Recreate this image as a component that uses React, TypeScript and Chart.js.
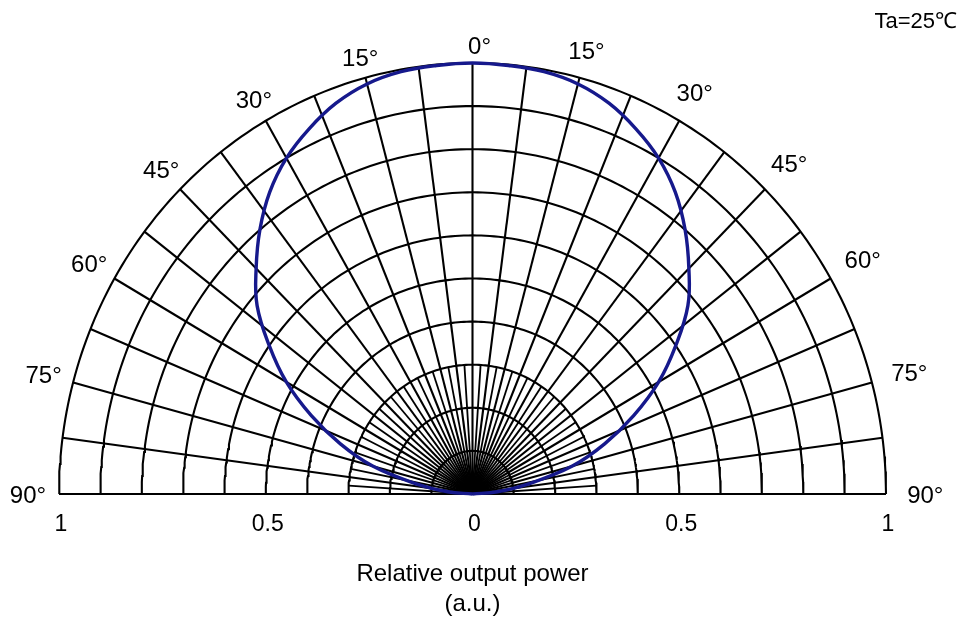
import { useEffect, useRef } from 'react';
import { Chart, registerables } from 'chart.js';

Chart.register(...registerables);

// ---- data ----
const curveAngles = [-90, -85, -80, -75, -70, -65, -60, -55, -50, -45, -40, -35, -30, -25, -20, -15, -10, -5, 0, 5, 10, 15, 20, 25, 30, 35, 40, 45, 50, 55, 60, 65, 70, 75, 80, 85, 90];
const curveValues = [0, 0.06, 0.14, 0.25, 0.34, 0.43, 0.52, 0.6, 0.68, 0.74, 0.8, 0.855, 0.9, 0.935, 0.965, 0.985, 0.995, 0.998, 1.0, 0.998, 0.995, 0.985, 0.965, 0.935, 0.9, 0.855, 0.8, 0.74, 0.68, 0.6, 0.52, 0.43, 0.34, 0.25, 0.14, 0.06, 0];

const arcRadii = [0.1, 0.2, 0.3, 0.4, 0.5, 0.6, 0.7, 0.8, 0.9, 1.0];
const spokeStepDeg = 7.5;
const fineSpokeStepDeg = 3.75;
const fineSpokeLength = 0.3;

const angleLabelDeg = [-90, -75, -60, -45, -30, -15, 0, 15, 30, 45, 60, 75, 90];
const angleLabelText = ['90°', '75°', '60°', '45°', '30°', '15°', '0°', '15°', '30°', '45°', '60°', '75°', '90°'];

const xTickValues = [-1, -0.5, 0, 0.5, 1];
const xTickLabels = ['1', '0.5', '0', '0.5', '1'];

const axisTitleLines = ['Relative output power', '(a.u.)'];
const cornerNote = 'Ta=25℃';

const FONT = '"Liberation Sans", Arial, sans-serif';
const rad = (d: number) => (d * Math.PI) / 180;

export default function App() {
  const ref = useRef<HTMLCanvasElement>(null);

  useEffect(() => {
    document.body.style.margin = '0';
    const canvas = ref.current;
    if (!canvas) return;

    const gridStyle = {
      showLine: true,
      borderColor: '#000',
      borderWidth: 2.1,
      pointRadius: 0,
      tension: 0,
      clip: false as const,
      order: 1,
    };

    const datasets: any[] = [];

    // curve (on top)
    datasets.push({
      data: curveAngles.map((a, i) => ({ x: curveValues[i] * Math.sin(rad(a)), y: curveValues[i] * Math.cos(rad(a)) })),
      showLine: true,
      borderColor: '#16198c',
      borderWidth: 3.4,
      pointRadius: 0,
      tension: 0.4,
      clip: false,
      order: 0,
    });

    // arcs
    for (const r of arcRadii) {
      const pts = [];
      for (let a = -90; a <= 90; a += 1) pts.push({ x: r * Math.sin(rad(a)), y: r * Math.cos(rad(a)) });
      datasets.push({ ...gridStyle, data: pts });
    }

    // main spokes
    for (let a = -90; a <= 90.001; a += spokeStepDeg) {
      datasets.push({ ...gridStyle, data: [{ x: 0, y: 0 }, { x: Math.sin(rad(a)), y: Math.cos(rad(a)) }] });
    }
    // fine spokes near the centre
    for (let a = -90 + fineSpokeStepDeg; a < 90; a += spokeStepDeg) {
      datasets.push({
        ...gridStyle,
        borderWidth: 1.8,
        data: [{ x: 0, y: 0 }, { x: fineSpokeLength * Math.sin(rad(a)), y: fineSpokeLength * Math.cos(rad(a)) }],
      });
    }

    const textPlugin = {
      id: 'polarText',
      afterDraw(chart: any) {
        const { ctx, scales } = chart;
        const xs = scales.x;
        const ys = scales.y;
        ctx.save();
        ctx.fillStyle = '#000';
        ctx.textBaseline = 'middle';
        ctx.textAlign = 'center';

        // angle labels
        ctx.font = `24px ${FONT}`;
        angleLabelDeg.forEach((d, i) => {
          const s = Math.abs(Math.sin(rad(d)));
          const R = d < 0 ? 1.04 + 0.035 * s : d > 0 ? 1.055 + 0.04 * s : 1.04;
          const px = xs.getPixelForValue(R * Math.sin(rad(d))) + (d === 0 ? 7 : 0);
          const py = ys.getPixelForValue(R * Math.cos(rad(d))) + 2;
          ctx.fillText(angleLabelText[i], px, py);
        });

        // x tick labels
        ctx.font = `23px ${FONT}`;
        const base = ys.getPixelForValue(0);
        xTickValues.forEach((v, i) => {
          ctx.fillText(xTickLabels[i], xs.getPixelForValue(v) + 2, base + 31);
        });

        // axis title
        ctx.font = `24px ${FONT}`;
        const cx = xs.getPixelForValue(0);
        ctx.fillText(axisTitleLines[0], cx, base + 80);
        ctx.fillText(axisTitleLines[1], cx, base + 110);

        // corner note
        ctx.font = `22px ${FONT}`;
        ctx.textAlign = 'right';
        ctx.fillText(cornerNote, 957, 22);
        ctx.restore();
      },
    };

    const chart = new Chart(canvas, {
      type: 'scatter',
      data: { datasets },
      options: {
        responsive: false,
        animation: false,
        devicePixelRatio: 1,
        events: [],
        layout: { padding: { left: 59, right: 79, top: 63, bottom: 125 } },
        plugins: { legend: { display: false }, tooltip: { enabled: false }, title: { display: false } },
        scales: {
          x: { type: 'linear', min: -1, max: 1, display: false },
          y: { type: 'linear', min: 0, max: 1, display: false },
        },
      },
      plugins: [textPlugin],
    });

    return () => chart.destroy();
  }, []);

  return (
    <div style={{ position: 'absolute', left: 0, top: 0, width: 965, height: 619, background: '#fff' }}>
      <canvas ref={ref} width={965} height={619} style={{ display: 'block', width: 965, height: 619 }} />
    </div>
  );
}
